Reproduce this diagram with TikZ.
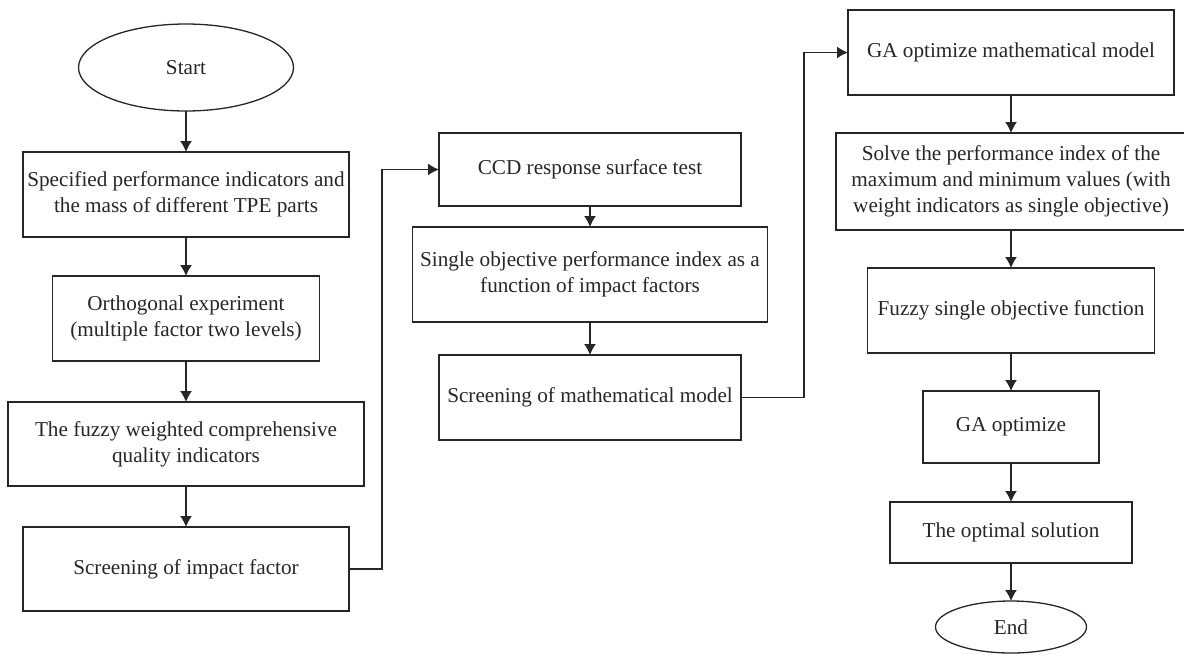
\documentclass[tikz,border=0pt]{standalone}
\usepackage{fontspec}
\setmainfont{Liberation Serif}
\usetikzlibrary{shapes,arrows.meta,positioning}
\tikzstyle{block} = [rectangle, draw, align=center, inner sep=0pt, outer sep=0pt, font=\fontsize{10.6}{13}\selectfont]
\tikzstyle{term} = [ellipse, draw, inner sep=0pt, outer sep=0pt, font=\fontsize{10.6}{13}\selectfont]
\tikzstyle{line} = [draw, -{Latex[length=5.5pt,width=6pt]}]

\begin{document}
\begin{tikzpicture}[line width=0.65pt, color=black!85]
    \useasboundingbox (0,0) rectangle (592pt,-327pt);
    % left column
    \node [term, minimum width=107.5pt, minimum height=43.5pt] (start) at (93pt,-33.75pt) {Start};
    \node [block, minimum width=163pt, minimum height=42.5pt, below=20.5pt of start] (spec) {Specified performance indicators and\\the mass of different TPE parts};
    \node [block, minimum width=133.5pt, minimum height=42.5pt, below=19.5pt of spec] (orth) {Orthogonal experiment\\(multiple factor two levels)};
    \node [block, minimum width=178pt, minimum height=42pt, below=20.5pt of orth] (fuzzyw) {The fuzzy weighted comprehensive\\quality indicators};
    \node [block, minimum width=163pt, minimum height=42pt, below=20.5pt of fuzzyw] (sif) {Screening of impact factor};
    \path [line] (start) -- (spec);
    \path [line] (spec) -- (orth);
    \path [line] (orth) -- (fuzzyw);
    \path [line] (fuzzyw) -- (sif);
    % middle column
    \node [block, anchor=north, minimum width=151pt, minimum height=36.5pt] (ccd) at (295pt,-66.5pt) {CCD response surface test};
    \node [block, minimum width=177.5pt, minimum height=47.5pt, below=10.5pt of ccd] (single) {Single objective performance index as a\\function of impact factors};
    \node [block, minimum width=151pt, minimum height=42.5pt, below=16.5pt of single] (smm) {Screening of mathematical model};
    \coordinate [right=16.5pt of sif] (sifc);
    \path [line] (sif) -- (sifc) |- (ccd);
    \path [line] (ccd) -- (single);
    \path [line] (single) -- (smm);
    % right column
    \node [block, anchor=north, minimum width=163pt, minimum height=42.5pt] (gamm) at (505.5pt,-5pt) {GA optimize mathematical model};
    \node [block, minimum width=175pt, minimum height=48.5pt, below=19pt of gamm] (solve) {Solve the performance index of the\\maximum and minimum values (with\\weight indicators as single objective)};
    \node [block, minimum width=143.5pt, minimum height=42.5pt, below=19pt of solve] (fsof) {Fuzzy single objective function};
    \node [block, minimum width=88pt, minimum height=36pt, below=19pt of fsof] (gaopt) {GA optimize};
    \node [block, minimum width=121pt, minimum height=30.5pt, below=19.5pt of gaopt] (optsol) {The optimal solution};
    \node [term, minimum width=75.5pt, minimum height=26pt, below=19pt of optsol] (end) {End};
    \coordinate [right=31.5pt of smm] (smmc);
    \path [line] (smm) -- (smmc) |- (gamm);
    \path [line] (gamm) -- (solve);
    \path [line] (solve) -- (fsof);
    \path [line] (fsof) -- (gaopt);
    \path [line] (gaopt) -- (optsol);
    \path [line] (optsol) -- (end);
\end{tikzpicture}
\end{document}
